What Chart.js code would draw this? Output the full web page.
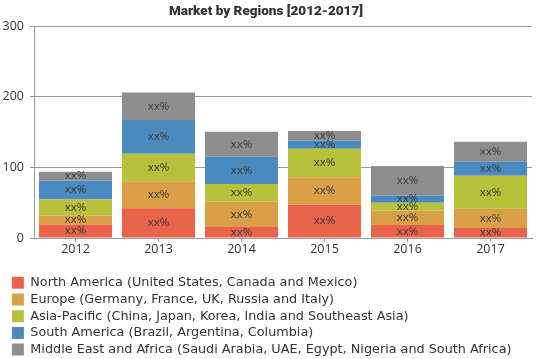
<!DOCTYPE html>
<html>
<head>
<meta charset="utf-8">
<script src="https://cdn.jsdelivr.net/npm/chart.js@4"></script>
<style>
  html, body { margin: 0; padding: 0; background: #fff; }
  #wrap { width: 539px; height: 359px; }
</style>
</head>
<body>
<div id="wrap"><canvas id="chart" width="539" height="359"></canvas></div>
<script>
const years = ['2012', '2013', '2014', '2015', '2016', '2017'];
const regionNames = [
  'North America (United States, Canada and Mexico)',
  'Europe (Germany, France, UK, Russia and Italy)',
  'Asia-Pacific (China, Japan, Korea, India and Southeast Asia)',
  'South America (Brazil, Argentina, Columbia)',
  'Middle East and Africa (Saudi Arabia, UAE, Egypt, Nigeria and South Africa)'
];
const northAmerica = [19, 42, 15.5, 47, 18.5, 14];
const europe = [13, 38.5, 36, 39, 20, 27.5];
const asiaPacific = [22.5, 39, 25, 40.5, 11.5, 46.5];
const southAmerica = [27, 47.5, 38.5, 11.5, 10, 20];
const middleEastAfrica = [12.5, 39, 35.5, 13.5, 42, 28.5];
const yTicks = [0, 100, 200, 300];
const colors = ['#e9634b', '#d9a048', '#b8c13a', '#4a8abf', '#8e8e8e'];

const seriesList = [northAmerica, europe, asiaPacific, southAmerica, middleEastAfrica];

// label every segment with the placeholder text
const segmentLabels = {
  id: 'segmentLabels',
  afterDatasetsDraw(chart) {
    const ctx = chart.ctx;
    ctx.save();
    ctx.font = '11.5px "Open Sans", sans-serif';
    ctx.fillStyle = '#3a3a3a';
    ctx.textAlign = 'center';
    ctx.textBaseline = 'middle';
    chart.data.datasets.forEach((ds, i) => {
      chart.getDatasetMeta(i).data.forEach(bar => {
        ctx.fillText('xx%', bar.x, (bar.y + bar.base) / 2);
      });
    });
    ctx.restore();
  }
};

// nudge the legend right and down, like the original
const legendShift = {
  id: 'legendShift',
  afterUpdate(chart) {
    const lg = chart.legend;
    if (lg) {
      lg.left += 8;
      lg.right += 8;
      lg.top += 7;
      lg.bottom += 7;
    }
  }
};

new Chart(document.getElementById('chart'), {
  type: 'bar',
  data: {
    labels: years,
    datasets: seriesList.map((values, i) => ({
      label: regionNames[i],
      data: values,
      backgroundColor: colors[i],
      borderWidth: 0,
      barPercentage: 0.88,
      categoryPercentage: 1
    }))
  },
  options: {
    responsive: false,
    devicePixelRatio: 1,
    animation: false,
    layout: { padding: { left: 0, right: 7, top: 0, bottom: 0 } },
    plugins: {
      title: {
        display: true,
        text: 'Market by Regions [2012-2017]',
        color: '#333',
        font: { family: 'Roboto, "DejaVu Sans", sans-serif', size: 13.5, weight: 900 },
        padding: { top: 4, bottom: 6 }
      },
      legend: {
        position: 'bottom',
        align: 'start',
        labels: {
          boxWidth: 12,
          boxHeight: 12,
          padding: 3.9,
          color: '#333',
          font: { family: '"DejaVu Sans", sans-serif', size: 12.8 }
        }
      },
      tooltip: { enabled: false }
    },
    scales: {
      x: {
        stacked: true,
        grid: { display: true, drawOnChartArea: false, offset: false, tickLength: 4, color: '#999' },
        border: { color: '#999' },
        ticks: { color: '#333', padding: 0, font: { family: '"Open Sans", sans-serif', size: 12.5 } },
        afterFit(scale) { scale.height = 27.5; }
      },
      y: {
        stacked: true,
        min: 0,
        max: 300,
        afterBuildTicks(scale) { scale.ticks = yTicks.map(v => ({ value: v })); },
        grid: { color: '#999', tickLength: 4 },
        border: { color: '#999' },
        ticks: { color: '#333', padding: 6, font: { family: '"Open Sans", sans-serif', size: 12.5 } },
        afterFit(scale) { scale.width = 34; }
      }
    }
  },
  plugins: [segmentLabels, legendShift]
});
</script>
</body>
</html>
